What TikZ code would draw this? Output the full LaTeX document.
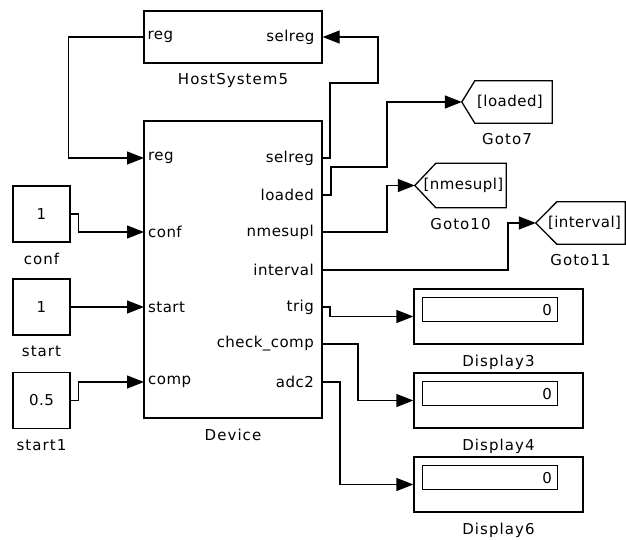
\documentclass[tikz,border=0pt]{standalone}
\usepackage{fontspec}
\setmainfont{DejaVu Sans}
\newfontfamily\portfont{DejaVu Sans}[LetterSpace=3]
\newfontfamily\lblfont{DejaVu Sans}[LetterSpace=7]
\usepackage{tikz}
\usetikzlibrary{arrows.meta,positioning}

\begin{document}
\begin{tikzpicture}[x=1pt, y=-1pt, >={Triangle[length=17pt,width=13pt]},
    blk/.style={draw, line width=1.3pt, inner sep=0pt},
    wire/.style={line width=1.3pt},
    sig/.style={->, line width=1.3pt},
    inport/.style={anchor=west, inner xsep=4pt, inner ysep=0pt, font=\fontsize{15}{17}\portfont},
    outport/.style={anchor=east, inner xsep=8pt, inner ysep=0pt, font=\fontsize{15}{17}\portfont},
    lbl/.style={inner sep=0pt, font=\fontsize{15}{17}\lblfont},
    const/.style={blk, minimum width=57pt, minimum height=56pt, font=\fontsize{15}{17}\portfont},
    gotobox/.style={inner sep=0pt, font=\fontsize{15}{17}\portfont},
    dispbox/.style={blk, minimum width=169pt, minimum height=55pt},
    dispval/.style={draw, line width=1.1pt, anchor=north west, minimum height=24pt, text width=123pt, inner xsep=6pt, inner ysep=0pt, align=right, font=\fontsize{15}{17}\portfont}]
    \useasboundingbox (0,0) rectangle (626,540);

    % HostSystem5 block
    \node[blk, minimum width=178pt, minimum height=52pt] (host) at (233,37) {};
    \node[inport] (hs-reg) at (host.west) {reg};
    \node[outport] (hs-selreg) at (host.east) {selreg};
    \node[lbl, below=10pt of host] (host-lbl) {HostSystem5};

    % Device block with its ports
    \node[blk, minimum width=178pt, minimum height=297pt] (dev) at (233,269.5) {};
    \node[lbl, below=10pt of dev] (dev-lbl) {Device};
    \node[inport] (dev-reg) at (144,158) {reg};
    \node[inport] (dev-conf) at (144,232) {conf};
    \node[inport] (dev-start) at (144,307) {start};
    \node[inport] (dev-comp) at (144,382) {comp};
    \node[outport] (dev-selreg) at (322,158) {selreg};
    \node[outport] (dev-loaded) at (322,195) {loaded};
    \node[outport] (dev-nmesupl) at (322,232) {nmesupl};
    \node[outport] (dev-interval) at (322,270) {interval};
    \node[outport] (dev-trig) at (322,307) {trig};
    \node[outport] (dev-check) at (322,344) {check\_comp};
    \node[outport] (dev-adc) at (322,382) {adc2};

    % Constant inputs
    \node[const] (conf) at (41.5,214) {1};
    \node[lbl, below=10pt of conf] (conf-lbl) {conf};
    \node[const] (start) at (41.5,307) {1};
    \node[lbl, below=10pt of start] (start-lbl) {start};
    \node[const] (start1) at (41.5,400.5) {0.5};
    \node[lbl, below=10pt of start1] (start1-lbl) {start1};

    % Goto tags
    \node[gotobox, minimum width=90pt, minimum height=42pt] (goto7) at (507,102) {\hspace{6pt}[loaded]};
    \node[gotobox, minimum width=91pt, minimum height=44pt] (goto10) at (460.5,185.5) {\hspace{6pt}[nmesupl]};
    \node[gotobox, minimum width=89pt, minimum height=42pt] (goto11) at (580.5,223) {\hspace{8pt}[interval]};
    \foreach \g/\d in {goto7/13, goto10/21, goto11/21}
        \draw[wire] ([xshift=\d pt]\g.north west) -- (\g.north east) -- (\g.south east) -- ([xshift=\d pt]\g.south west) -- (\g.west) -- cycle;
    \node[lbl, below=10pt of goto7] (goto7-lbl) {Goto7};
    \node[lbl, below=10pt of goto10] (goto10-lbl) {Goto10};
    \node[lbl, below=10pt of goto11] (goto11-lbl) {Goto11};

    % Displays
    \node[dispbox] (disp3) at (498.5,316.5) {};
    \node[dispval] (disp3-val) at ([shift={(9pt,-9pt)}]disp3.north west) {0};
    \node[lbl, below=10pt of disp3] (disp3-lbl) {Display3};
    \node[dispbox] (disp4) at (498.5,400.5) {};
    \node[dispval] (disp4-val) at ([shift={(9pt,-9pt)}]disp4.north west) {0};
    \node[lbl, below=10pt of disp4] (disp4-lbl) {Display4};
    \node[dispbox] (disp6) at (498.5,484.5) {};
    \node[dispval] (disp6-val) at ([shift={(9pt,-9pt)}]disp6.north west) {0};
    \node[lbl, below=10pt of disp6] (disp6-lbl) {Display6};

    % Signal lines
    \draw[sig] (hs-reg.west) -- ++(-75,0) |- (dev-reg.west);
    \draw[sig] (dev-selreg.east) -- ++(8,0) -- ++(0,-75) -- ++(48,0) |- (hs-selreg.east);
    \draw[sig] (dev-loaded.east) -- ++(9,0) |- (387,167) |- (goto7.west);
    \draw[sig] (dev-nmesupl.east) -- ++(65,0) |- (goto10.west);
    \draw[sig] (dev-interval.east) -- ++(186,0) |- (goto11.west);
    \draw[sig] (dev-trig.east) -- ++(8,0) |- (disp3.west);
    \draw[sig] (dev-check.east) -- ++(36,0) |- (disp4.west);
    \draw[sig] (dev-adc.east) -- ++(18,0) |- (disp6.west);
    \draw[sig] (conf.east) -- ++(8,0) |- (dev-conf.west);
    \draw[sig] (start.east) -- (dev-start.west);
    \draw[sig] (start1.east) -- ++(8,0) |- (dev-comp.west);
\end{tikzpicture}
\end{document}
